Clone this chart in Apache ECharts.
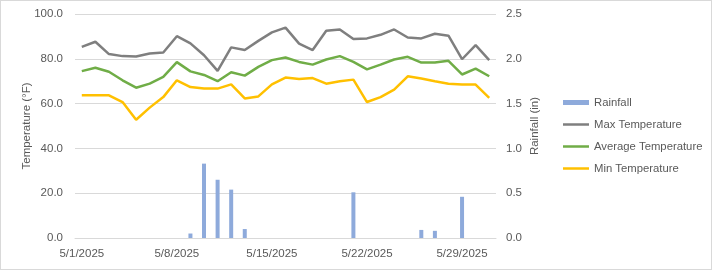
<!DOCTYPE html>
<html>
<head>
<meta charset="utf-8">
<script src="https://cdn.jsdelivr.net/npm/echarts@6/dist/echarts.min.js"></script>
<style>
  html, body { margin: 0; padding: 0; background: #fff; }
  #chart { width: 710px; height: 268px; border: 1px solid #d9d9d9; }
</style>
</head>
<body>
<div id="chart"></div>
<script>
// daily weather, May 2025
var dates = [];
for (var d = 1; d <= 31; d++) dates.push('5/' + d + '/2025');

var rainfall = [0, 0, 0, 0, 0, 0, 0, 0, 0.05, 0.83, 0.65, 0.54, 0.10, 0, 0,
  0, 0, 0, 0, 0, 0.51, 0, 0, 0, 0, 0.09, 0.08, 0, 0.46, 0, 0];
var maxTemp = [85.3, 87.6, 82.1, 81.2, 81.0, 82.4, 82.8, 90.1, 86.9, 81.6, 74.6, 85.1, 83.9, 88.0, 91.8,
  93.9, 86.8, 83.9, 92.5, 93.1, 88.8, 89.1, 90.7, 93.1, 89.5, 89.1, 91.2, 90.3, 79.8, 86.1, 79.4];
var avgTemp = [74.5, 76.0, 74.2, 70.4, 67.1, 68.9, 71.9, 78.5, 74.4, 72.8, 70.0, 74.0, 72.5, 76.4, 79.4,
  80.6, 78.6, 77.4, 79.7, 81.2, 78.6, 75.3, 77.4, 79.7, 80.9, 78.3, 78.3, 79.1, 73.0, 75.6, 72.2];
var minTemp = [63.7, 63.7, 63.7, 60.7, 52.8, 58.2, 62.9, 70.4, 67.4, 66.7, 66.7, 68.6, 62.3, 63.2, 68.6,
  71.6, 71.0, 71.4, 68.9, 70.0, 70.7, 60.7, 62.9, 66.2, 72.2, 71.2, 70.0, 68.9, 68.5, 68.5, 62.6];

var font = 'Liberation Sans';
var textColor = '#595959';
var gridColor = '#d9d9d9';
// thin flat bar used as the legend mark of the lines
var lineIcon = 'path://M0,0H26V2.5H0Z';

function lineSeries(name, data, color) {
  return {
    name: name,
    type: 'line',
    yAxisIndex: 0,
    data: data,
    symbol: 'none',
    lineStyle: { color: color, width: 2.5 },
    itemStyle: { color: color }
  };
}

var option = {
  animation: false,
  textStyle: { fontFamily: font },
  grid: { left: 74, right: 215, top: 13, bottom: 31 },
  legend: {
    orient: 'vertical',
    left: 557,
    top: 91,
    itemWidth: 26,
    itemHeight: 5,
    itemGap: 11,
    symbolKeepAspect: true,
    textStyle: { color: textColor, fontSize: 11.3, fontFamily: font },
    data: [
      { name: 'Rainfall', icon: 'rect' },
      { name: 'Max Temperature', icon: lineIcon },
      { name: 'Average Temperature', icon: lineIcon },
      { name: 'Min Temperature', icon: lineIcon }
    ]
  },
  xAxis: {
    type: 'category',
    data: dates,
    boundaryGap: true,
    axisLine: { lineStyle: { color: gridColor } },
    axisTick: { show: false },
    axisLabel: { interval: 6, color: textColor, fontSize: 11.5, margin: 10 }
  },
  yAxis: [
    {
      type: 'value',
      name: 'Temperature (°F)',
      nameLocation: 'middle',
      nameGap: 42,
      nameMoveOverlap: false,
      nameTextStyle: { color: textColor, fontSize: 11.5 },
      min: 0, max: 100, interval: 20,
      axisLabel: { color: textColor, fontSize: 11.5, margin: 12,
        formatter: function (v) { return v.toFixed(1); } },
      splitLine: { lineStyle: { color: gridColor } },
      axisLine: { show: false },
      axisTick: { show: false }
    },
    {
      type: 'value',
      name: 'Rainfall (in)',
      nameLocation: 'middle',
      nameGap: 33,
      nameMoveOverlap: false,
      nameTextStyle: { color: textColor, fontSize: 11.5 },
      min: 0, max: 2.5, interval: 0.5,
      axisLabel: { color: textColor, fontSize: 11.5, margin: 10,
        formatter: function (v) { return v.toFixed(1); } },
      splitLine: { show: false },
      axisLine: { show: false },
      axisTick: { show: false }
    }
  ],
  series: [
    {
      name: 'Rainfall',
      type: 'bar',
      yAxisIndex: 1,
      data: rainfall,
      barWidth: 4,
      itemStyle: { color: '#8eaadb' }
    },
    lineSeries('Max Temperature', maxTemp, '#7f7f7f'),
    lineSeries('Average Temperature', avgTemp, '#70ad47'),
    lineSeries('Min Temperature', minTemp, '#ffc000')
  ]
};

var myChart = echarts.init(document.getElementById('chart'));
myChart.setOption(option);
</script>
</body>
</html>
